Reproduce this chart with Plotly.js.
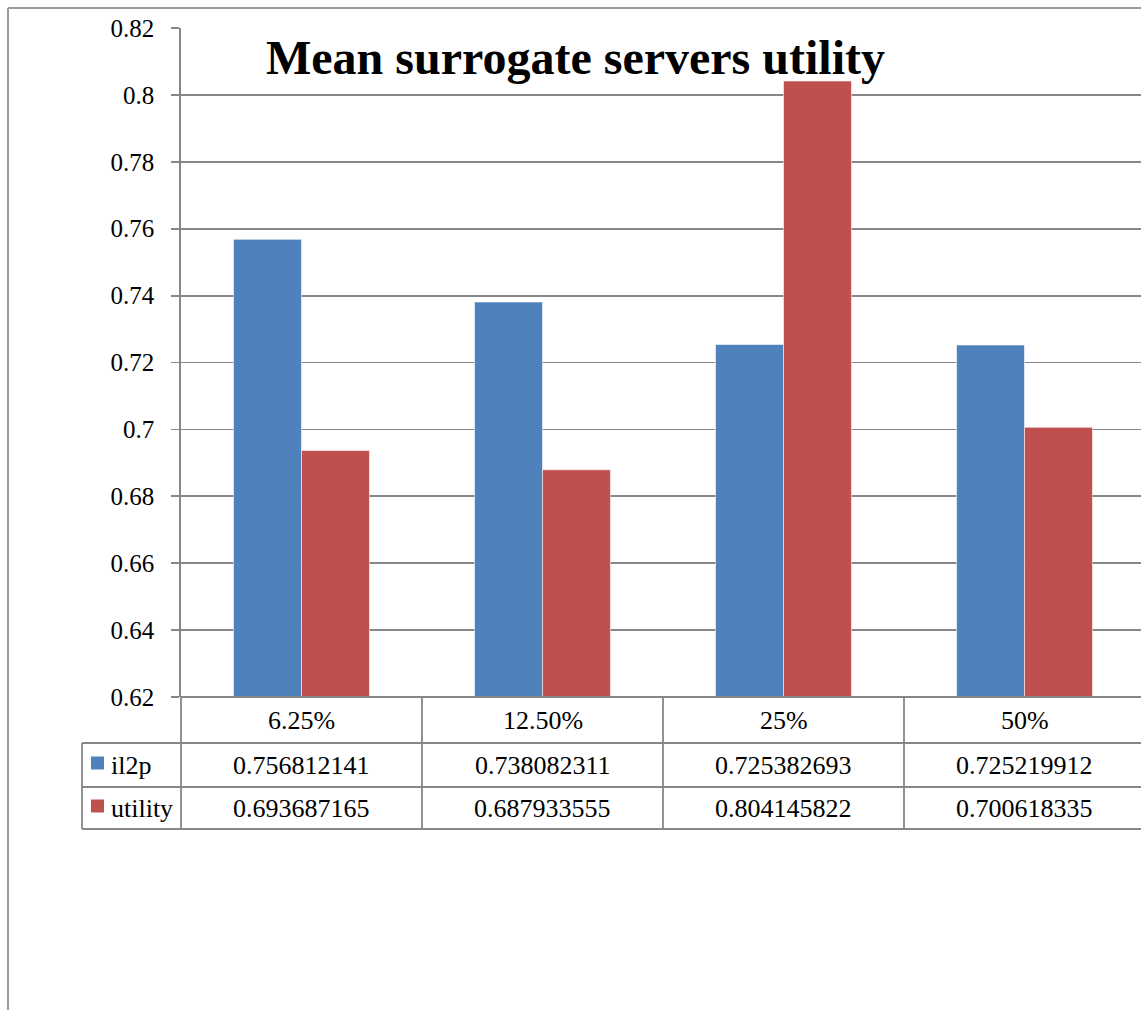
<!DOCTYPE html>
<html>
<head>
<meta charset="utf-8">
<script src="https://cdn.plot.ly/plotly-3.0.1.min.js"></script>
<style>
  html, body { margin: 0; padding: 0; background: #fff; }
  #chart { width: 1141px; height: 1010px; }
</style>
</head>
<body>
<div id="chart"></div>
<script>
// Mean utility of surrogate servers per share of surrogates
const categories = ['6.25%', '12.50%', '25%', '50%'];
const seriesNames = ['il2p', 'utility'];
const il2pValues = [0.756812141, 0.738082311, 0.725382693, 0.725219912];
const utilityValues = [0.693687165, 0.687933555, 0.804145822, 0.700618335];
const yTickValues = [0.62, 0.64, 0.66, 0.68, 0.7, 0.72, 0.74, 0.76, 0.78, 0.8, 0.82];
const yTickLabels = ['0.62', '0.64', '0.66', '0.68', '0.7', '0.72', '0.74', '0.76', '0.78', '0.8', '0.82'];
const seriesColors = ['#4F81BD', '#C0504D'];

const W = 1141, H = 1010;
const px = v => v / W;          // pixel -> paper x
const py = v => 1 - v / H;      // pixel -> paper y
const FONT = 'Liberation Serif';
const GRID = '#878787';

// plot box and data-table geometry (pixels)
const plotLeft = 181, plotTop = 28, plotBottom = 697;
const colW = 241;
const rowHeader = [697, 743], rowA = [743, 787], rowB = [787, 829];
const labelLeft = 82;

const xIdx = categories.map((_, i) => i);
const xMax = -0.5 + (W - plotLeft) / colW;

const traces = [il2pValues, utilityValues].map((vals, k) => ({
  type: 'bar',
  name: seriesNames[k],
  x: xIdx,
  y: vals,
  marker: { color: seriesColors[k], line: { color: 'rgba(255,255,255,0.55)', width: 1 } },
  hoverinfo: 'skip',
  showlegend: false
}));

const shapes = [];
const line = (x0, y0, x1, y1, color, w) => shapes.push({
  type: 'line', xref: 'paper', yref: 'paper',
  x0: px(x0), y0: py(y0), x1: px(x1), y1: py(y1),
  line: { color: color || GRID, width: w || 1.8 }
});

// outer frame (top and left edges)
line(8, 8, W, 8, '#9a9a9a', 2);
line(8, 8, 8, H, '#9a9a9a', 2);

// data table grid
line(plotLeft, rowHeader[0], W, rowHeader[0]);
line(labelLeft, rowA[0], W, rowA[0]);
line(labelLeft, rowB[0], W, rowB[0]);
line(labelLeft, rowB[1], W, rowB[1]);
line(plotLeft, rowHeader[0], plotLeft, rowB[1]);
line(labelLeft, rowA[0], labelLeft, rowB[1]);
for (let i = 1; i < categories.length; i++) {
  line(plotLeft + i * colW, rowHeader[0], plotLeft + i * colW, rowB[1]);
}

// legend keys in the table
[rowA, rowB].forEach((r, k) => {
  const cy = (r[0] + r[1]) / 2 - 2;
  shapes.push({
    type: 'rect', xref: 'paper', yref: 'paper',
    x0: px(91), x1: px(104), y0: py(cy - 6.5), y1: py(cy + 6.5),
    fillcolor: seriesColors[k], line: { width: 0 }
  });
});

const annotations = [];
const text = (t, x, y, size, extra) => annotations.push(Object.assign({
  text: t, xref: 'paper', yref: 'paper', x: px(x), y: py(y),
  xanchor: 'center', yanchor: 'middle', showarrow: false,
  font: { family: FONT, size: size, color: '#000' }
}, extra || {}));

// title
text('<b>Mean surrogate servers utility</b>', 575, 57, 48);

// table cells
categories.forEach((c, i) => {
  const cx = plotLeft + (i + 0.5) * colW;
  text(c, cx, (rowHeader[0] + rowHeader[1]) / 2, 26);
  text(String(il2pValues[i]), cx, (rowA[0] + rowA[1]) / 2, 26);
  text(String(utilityValues[i]), cx, (rowB[0] + rowB[1]) / 2, 26);
});
[rowA, rowB].forEach((r, k) => {
  text(seriesNames[k], 109, (r[0] + r[1]) / 2, 26, { xanchor: 'left' });
});

const layout = {
  width: W, height: H,
  margin: { l: 0, r: 0, t: 0, b: 0 },
  paper_bgcolor: '#fff', plot_bgcolor: '#fff',
  barmode: 'group',
  bargap: 0.436,
  bargroupgap: 0,
  xaxis: {
    domain: [px(plotLeft), 1],
    range: [-0.5, xMax],
    showticklabels: false, showgrid: false, zeroline: false,
    ticks: '', fixedrange: true
  },
  yaxis: {
    domain: [py(plotBottom), py(plotTop)],
    range: [0.62, 0.82],
    tickvals: yTickValues, ticktext: yTickLabels,
    tickfont: { family: FONT, size: 25, color: '#000' },
    ticks: 'outside', ticklen: 8, tickcolor: GRID, tickwidth: 1.8,
    ticklabelstandoff: 12,
    showgrid: true, gridcolor: GRID, gridwidth: 1.8,
    showline: true, linecolor: GRID, linewidth: 1.8,
    zeroline: false, fixedrange: true
  },
  shapes: shapes,
  annotations: annotations
};

Plotly.newPlot('chart', traces, layout, { staticPlot: true, displayModeBar: false });
</script>
</body>
</html>
